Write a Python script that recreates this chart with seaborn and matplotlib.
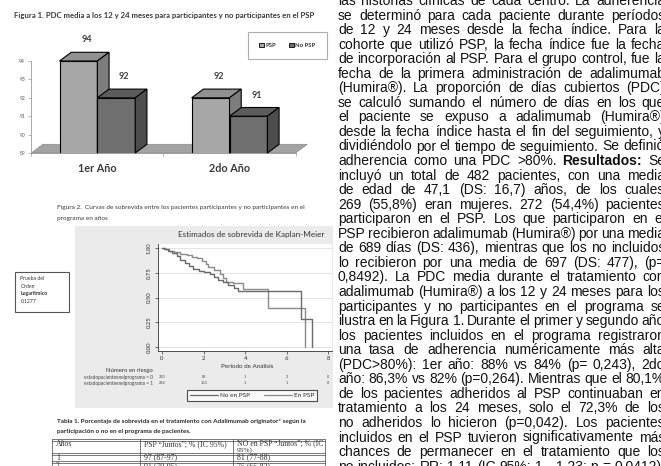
import numpy as np
import pandas as pd
import matplotlib
matplotlib.use("Agg")
import matplotlib.pyplot as plt
import seaborn as sns
from matplotlib.patches import Polygon, Rectangle, Patch
from matplotlib.lines import Line2D

# ---------------- data ----------------
years = ["1er Año", "2do Año"]
grupos = ["PSP", "No PSP"]
pdc_psp = [94, 92]
pdc_nopsp = [92, 91]
bar_yticks = [89, 90, 91, 92, 93, 94]

km_groups = ["En PSP", "No en PSP"]
km_t_psp = [0, 0.15, 0.35, 0.6, 0.87, 1.2, 1.45, 1.67, 1.9, 2.1, 2.23, 2.5, 2.79, 2.95, 3.1, 3.43, 3.9, 5.1, 6.87]
km_s_psp = [1.0, 0.99, 0.97, 0.955, 0.94, 0.925, 0.91, 0.90, 0.87, 0.84, 0.81, 0.78, 0.74, 0.70, 0.66, 0.65, 0.59, 0.39, 0.0]
km_t_no = [0, 0.1, 0.3, 0.5, 0.7, 0.87, 1.1, 1.3, 1.5, 1.8, 2.0, 2.3, 2.5, 2.7, 2.95, 3.19, 3.45, 3.67, 6.7, 7.2]
km_s_no = [1.0, 0.985, 0.97, 0.95, 0.92, 0.88, 0.85, 0.82, 0.79, 0.77, 0.76, 0.74, 0.71, 0.68, 0.66, 0.63, 0.60, 0.57, 0.28, 0.0]
km_xticks = [0, 2, 4, 6, 8]
km_yticks = [0.0, 0.25, 0.5, 0.75, 1.0]
risk_labels = ["estadopacienteenelprograma = 0", "estadopacienteenelprograma = 1"]
risk_row0 = [220, 86, 1, 2, 0]
risk_row1 = [262, 100, 1, 1, 0]
logrank_p = "0,1277"

tabla_header = ["Años", "PSP “Juntos”; % (IC 95%)", "NO en PSP “Juntos”; % (IC"]
tabla_anios = ["1", "2"]
tabla_psp = ["97 (87-97)", "91 (79-95)"]
tabla_nopsp = ["81 (77-88)", "75 (65-83)"]

body_lines = [
    "las historias clínicas de cada centro. La adherencia",
    "se determinó para cada paciente durante períodos",
    "de 12 y 24 meses desde la fecha índice. Para la",
    "cohorte que utilizó PSP, la fecha índice fue la fecha",
    "de incorporación al PSP. Para el grupo control, fue la",
    "fecha de la primera administración de adalimumab",
    "(Humira®). La proporción de días cubiertos (PDC)",
    "se calculó sumando el número de días en los que",
    "el paciente se expuso a adalimumab (Humira®)",
    "desde la fecha índice hasta el fin del seguimiento, y",
    "dividiéndolo por el tiempo de seguimiento. Se definió",
    "adherencia como una PDC >80%. *Resultados: Se",
    "incluyó un total de 482 pacientes, con una media",
    "de edad de 47,1 (DS: 16,7) años, de los cuales",
    "269 (55,8%) eran mujeres. 272 (54,4%) pacientes",
    "participaron en el PSP. Los que participaron en el",
    "PSP recibieron adalimumab (Humira®) por una media",
    "de 689 días (DS: 436), mientras que los no incluidos",
    "lo recibieron por una media de 697 (DS: 477), (p=",
    "0,8492). La PDC media durante el tratamiento con",
    "adalimumab (Humira®) a los 12 y 24 meses para los",
    "participantes y no participantes en el programa se",
    "ilustra en la Figura 1. Durante el primer y segundo año",
    "los pacientes incluidos en el programa registraron",
    "una tasa de adherencia numéricamente más alta",
    "(PDC>80%): 1er año: 88% vs 84% (p= 0,243), 2do",
    "año: 86,3% vs 82% (p=0,264). Mientras que el 80,1%",
    "de los pacientes adheridos al PSP continuaban en",
    "tratamiento a los 24 meses, solo el 72,3% de los",
    "no adheridos lo hicieron (p=0,042). Los pacientes",
    "incluidos en el PSP tuvieron significativamente más",
    "chances de permanecer en el tratamiento que los",
    "no incluidos: RR: 1,11 (IC 95%: 1 - 1,23; p = 0,0412).",
]

# ---------------- setup ----------------
sns.set_style("white")
plt.rcParams["font.family"] = ["Lato", "DejaVu Sans"]

W, H = 661, 466
fig = plt.figure(figsize=(W / 100, H / 100), dpi=100)
fig.patch.set_facecolor("white")
renderer = fig.canvas.get_renderer()


def rect(l, t, r, b):
    return [l / W, 1 - b / H, (r - l) / W, (b - t) / H]


def page_axes(z):
    a = fig.add_axes([0, 0, 1, 1], zorder=z)
    a.set_xlim(0, W)
    a.set_ylim(H, 0)
    a.axis("off")
    a.patch.set_alpha(0)
    return a


bg = page_axes(-5)
ov = page_axes(5)


def fit(x, y, s, width, ha="left", va="center", **kw):
    t = ov.text(x, y, s, fontsize=10, ha=ha, va=va, **kw)
    w = t.get_window_extent(renderer).width
    t.set_fontsize(10 * width / w)
    return t


# ---------------- Figure 1 : 3D-like bar chart ----------------
fit(14, 15.5, "Figura 1. PDC media a los 12 y 24 meses para participantes y no participantes en el PSP",
    300, fontweight="bold", color="#3a3a3a")

ax1 = fig.add_axes(rect(31.3, 61, 295.6, 153))
ax1.patch.set_alpha(0)
df_bar = pd.DataFrame({
    "Año": years + years,
    "Grupo": [grupos[0]] * len(years) + [grupos[1]] * len(years),
    "PDC": pdc_psp + pdc_nopsp,
})
front = {"PSP": "#a7a7a7", "No PSP": "#6f6f6f"}
topc = {"PSP": "#919191", "No PSP": "#5c5c5c"}
sidec = {"PSP": "#7d7d7d", "No PSP": "#4d4d4d"}
sns.barplot(data=df_bar, x="Año", y="PDC", hue="Grupo", hue_order=grupos,
            palette=front, width=0.573, edgecolor="black", linewidth=0.8,
            errorbar=None, legend=False, ax=ax1)
ax1.set_xlim(-0.5, 1.5)
ax1.set_ylim(89, 94)
ax1.set_xlabel("")
ax1.set_ylabel("")

# depth offset of the pseudo-3D effect (pixels -> data units)
bb = ax1.get_window_extent(renderer)
ddx = 11.7 * (1.5 - -0.5) / bb.width
ddy = 8.7 * (94 - 89) / bb.height
y0 = 89
x_lo, x_hi = ax1.get_xlim()
ax1.add_patch(Polygon([(x_lo, y0), (x_hi, y0), (x_hi + ddx, y0 + ddy), (x_lo + ddx, y0 + ddy)],
                      closed=True, facecolor="#a3a3a3", edgecolor="#8a8a8a", lw=0.5,
                      zorder=2, clip_on=False))

bars = sorted([p for p in ax1.patches if isinstance(p, Rectangle) and p.get_width() > 0 and p.get_height() > 50],
              key=lambda p: p.get_x())
for i, p in enumerate(bars):
    x0, w, h = p.get_x(), p.get_width(), p.get_height()
    x1 = x0 + w
    fc = matplotlib.colors.to_hex(p.get_facecolor())
    grp = "PSP" if fc == matplotlib.colors.to_hex(front["PSP"]) else "No PSP"
    z = 3 + i
    p.set_zorder(z)
    ax1.add_patch(Polygon([(x0, h), (x1, h), (x1 + ddx, h + ddy), (x0 + ddx, h + ddy)], closed=True,
                          facecolor=topc[grp], edgecolor="black", lw=0.8, zorder=z, clip_on=False))
    ax1.add_patch(Polygon([(x1, y0), (x1, h), (x1 + ddx, h + ddy), (x1 + ddx, y0 + ddy)], closed=True,
                          facecolor=sidec[grp], edgecolor="black", lw=0.8, zorder=z, clip_on=False))
    ax1.annotate(f"{h:.0f}", xy=(x0 + w / 2, h), xytext=(8, 21), textcoords="offset pixels",
                 ha="center", va="center", fontsize=6.6, fontweight="bold", color="#404040",
                 annotation_clip=False, zorder=20)

for s in ["top", "right"]:
    ax1.spines[s].set_visible(False)
ax1.spines["left"].set_color("#999999")
ax1.spines["left"].set_linewidth(0.6)
ax1.spines["bottom"].set_color("#8a8a8a")
ax1.spines["bottom"].set_linewidth(0.5)
ax1.set_yticks(bar_yticks)
ax1.set_yticklabels([str(v) for v in bar_yticks])
ax1.tick_params(axis="y", labelsize=3.6, labelcolor="#555555", color="#999999",
                length=2, width=0.5, pad=2.5, left=True)
ax1.set_xticks([0, 1])
ax1.set_xticklabels(years, fontsize=7.8, fontweight="bold", color="#3a3a3a")
ax1.tick_params(axis="x", which="major", length=0, pad=7.5)
ax1.set_xticks([-0.5, 0.5, 1.5], minor=True)
ax1.tick_params(axis="x", which="minor", length=2.5, width=0.5, color="#999999", bottom=True)

bar_handles = [Patch(facecolor=front[g], edgecolor="black", lw=0.6) for g in grupos]
leg1 = ax1.legend(bar_handles, grupos, loc="center", bbox_to_anchor=(287.5, 45.5),
                  bbox_transform=ov.transData, ncol=2, fontsize=4.2, frameon=True,
                  fancybox=False, edgecolor="#9a9a9a", borderpad=1.9, handlelength=0.8,
                  handleheight=0.8, handletextpad=0.25, columnspacing=2.2)
leg1.get_frame().set_linewidth(0.8)
for t in leg1.get_texts():
    t.set_fontweight("bold")
    t.set_color("#333333")

# ---------------- Figure 2 : Kaplan-Meier ----------------
cap_txt = "Figura 2.  Curvas de sobrevida entre los pacientes participantes y no participantes en el"
fit(57.3, 208, cap_txt, 248, color="#3a3a3a")
cap2 = fit(57.3, 218.3, cap_txt, 248, color="#3a3a3a")
cap2.set_text("programa en años")

bg.add_patch(Rectangle((75, 226), 258, 182, facecolor="#ebebeb", edgecolor="none"))

ax2 = fig.add_axes(rect(158, 244, 332, 351))
ax2.set_facecolor("white")
km_colors = {"En PSP": "#8a8a8a", "No en PSP": "#6a6a6a"}
df_km = pd.concat([
    pd.DataFrame({"t": km_t_psp, "S": km_s_psp, "Grupo": km_groups[0]}),
    pd.DataFrame({"t": km_t_no, "S": km_s_no, "Grupo": km_groups[1]}),
])
sns.lineplot(data=df_km, x="t", y="S", hue="Grupo", palette=km_colors, estimator=None,
             sort=False, drawstyle="steps-post", lw=1.0, legend=False, ax=ax2)
ax2.set_xlim(-0.19, 8.17)
ax2.set_ylim(-0.04, 1.04)
ax2.set_xlabel("")
ax2.set_ylabel("")
ax2.set_xticks(km_xticks)
ax2.set_xticklabels([str(v) for v in km_xticks])
ax2.set_yticks(km_yticks)
ax2.set_yticklabels([f"{v:.2f}" for v in km_yticks], rotation=90, va="center")
ax2.tick_params(axis="both", labelsize=4.3, labelcolor="#333333", color="#333333",
                length=2.5, width=0.5, left=True, bottom=True)
ax2.tick_params(axis="x", pad=1.2)
ax2.tick_params(axis="y", pad=2)
ax2.yaxis.grid(True, color="#e4e4e4", lw=0.7)
ax2.xaxis.grid(False)
for s in ["top", "right"]:
    ax2.spines[s].set_visible(False)
for s in ["left", "bottom"]:
    ax2.spines[s].set_color("#333333")
    ax2.spines[s].set_linewidth(0.6)

fit(178, 235, "Estimados de sobrevida de Kaplan-Meier", 147, color="#333333")
fit(247, 366.5, "Período de Análisis", 52, ha="center", color="#333333")
fit(129, 370.8, "Número en riesgo", 47, ha="center", color="#333333")
for row_y, lab, vals_r in [(377.3, risk_labels[0], risk_row0), (383.3, risk_labels[1], risk_row1)]:
    fit(153, row_y, lab, 68, ha="right", color="#444444")
    for tt, v in zip(km_xticks, vals_r):
        xd = ax2.transData.transform((tt, 0))[0]
        ov.text(xd, row_y, str(v), fontsize=2.8, ha="center", va="center", color="#444444")

km_handles = [Line2D([], [], color=km_colors[g], lw=0.9) for g in ["No en PSP", "En PSP"]]
leg2 = ax2.legend(km_handles, ["No en PSP", "En PSP"], loc="center", bbox_to_anchor=(252, 395.7),
                  bbox_transform=ov.transData, ncol=2, fontsize=4.6, frameon=True, fancybox=False,
                  edgecolor="#222222", borderpad=0.45, handlelength=4.4, handletextpad=0.3,
                  columnspacing=2.2, borderaxespad=0)
leg2.get_frame().set_linewidth(0.8)
leg2.get_frame().set_facecolor("white")

# log-rank box
ov.add_patch(Rectangle((15, 272), 54, 40, facecolor="white", edgecolor="#555555", lw=0.8))
for yy, s in [(279, "Prueba del"), (286.3, "Orden"), (293.8, "Logaritmico"), (301.2, logrank_p)]:
    t = ov.text(20.5, yy, s, fontsize=3.7, ha="left", va="center", color="#333333")
    if s == "Logaritmico":
        t.set_fontweight("bold")

# ---------------- Tabla 1 ----------------
tab_cap = "Tabla 1. Porcentaje de sobrevida en el tratamiento con Adalimumab originator* según la"
fit(56.7, 421, tab_cap, 251, color="#2a2a2a", fontweight="bold")
c = fit(56.7, 432, tab_cap, 251, color="#2a2a2a", fontweight="bold")
c.set_text("participación o no en el programa de pacientes.")

col_x = [52, 140, 233, 325]
for yy in [439, 453, 461]:
    for off in (0, 1.6):
        ov.plot([col_x[0], col_x[-1]], [yy + off, yy + off], color="#444444", lw=0.5)
for xx in col_x:
    ov.plot([xx, xx], [439, 470], color="#444444", lw=0.5)
serif = dict(family="Liberation Serif", color="#333333")
th = fit(144, 443.8, tabla_header[1], 83, **serif)
fs_tab = th.get_fontsize()
ov.text(56, 443.8, tabla_header[0], fontsize=fs_tab, ha="left", va="center", **serif)
ov.text(237, 443.4, tabla_header[2], fontsize=fs_tab, ha="left", va="center", **serif)
ov.text(237, 450.2, "95%)", fontsize=fs_tab * 0.95, ha="left", va="center", **serif)
for yy, a, b, cc in zip([457.6, 466], tabla_anios, tabla_psp, tabla_nopsp):
    ov.text(56, yy, a, fontsize=fs_tab, ha="left", va="center", **serif)
    ov.text(144, yy, b, fontsize=fs_tab, ha="left", va="center", **serif)
    ov.text(237, yy, cc, fontsize=fs_tab, ha="left", va="center", **serif)

# ---------------- justified body text ----------------
body = dict(family="Liberation Sans", color="#111111")
left_x, right_x = 338, 665
colw = right_x - left_x


def measure(s, bold, size):
    t = ov.text(0, 0, s, fontsize=size, fontweight="bold" if bold else "normal", **body)
    w = t.get_window_extent(renderer).width
    t.remove()
    return w


def parse(line):
    out = []
    bold = False
    for wd in line.split(" "):
        if wd.startswith("*"):
            bold = True
            wd = wd[1:]
        out.append((wd, bold and wd == "Resultados:"))
    return out


parsed = [parse(l) for l in body_lines]
fs_body = 10.6
for _ in range(40):
    min_gap = min((colw - sum(measure(w, b, fs_body) for w, b in words)) / (len(words) - 1)
                  for words in parsed)
    if min_gap >= 2.4:
        break
    fs_body *= 0.985

for k, words in enumerate(parsed):
    widths = [measure(w, b, fs_body) for w, b in words]
    gap = (colw - sum(widths)) / (len(words) - 1)
    yb = 5 + 14.55 * k
    x = left_x
    for (w, b), wd in zip(words, widths):
        ov.text(x, yb, w, fontsize=fs_body, fontweight="bold" if b else "normal",
                ha="left", va="baseline", **body)
        x += wd + gap

fig.savefig("out.png", dpi=100, facecolor="white")
